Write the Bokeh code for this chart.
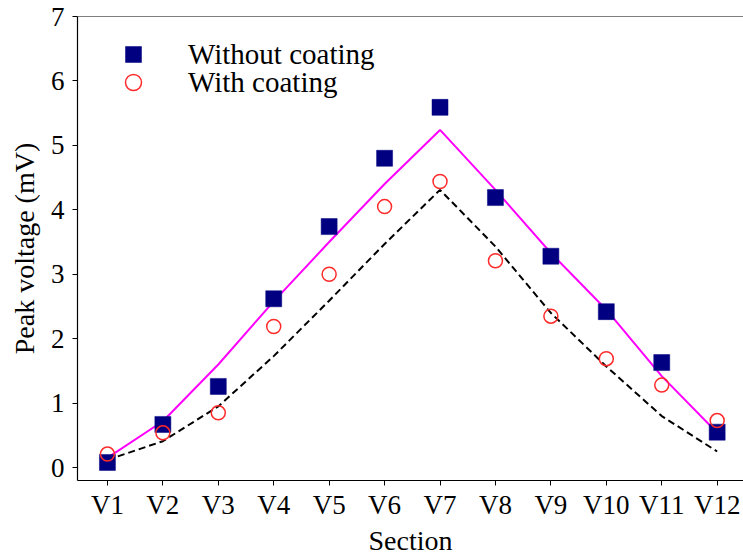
from bokeh.plotting import figure
from bokeh.models import FixedTicker, Legend, LegendItem, Span
from bokeh.embed import file_html
from bokeh.resources import INLINE

sections = ["V1", "V2", "V3", "V4", "V5", "V6", "V7", "V8", "V9", "V10", "V11", "V12"]
without_coating = [0.08, 0.67, 1.26, 2.62, 3.74, 4.80, 5.59, 4.19, 3.28, 2.42, 1.63, 0.55]
with_coating = [0.21, 0.54, 0.85, 2.19, 3.00, 4.05, 4.44, 3.21, 2.35, 1.69, 1.28, 0.73]
fit_without = [0.15, 0.72, 1.60, 2.58, 3.50, 4.40, 5.24, 4.31, 3.33, 2.45, 1.42, 0.54]
fit_with = [0.12, 0.41, 0.95, 1.73, 2.59, 3.47, 4.31, 3.43, 2.40, 1.57, 0.80, 0.25]
y_ticks = [0, 1, 2, 3, 4, 5, 6, 7]

xs = list(range(1, len(sections) + 1))
FONT = "Liberation Serif"

p = figure(width=743, height=558, output_backend="svg", toolbar_location=None,
           x_range=(0.46, 12.475), y_range=(-0.2, 7.0),
           min_border_left=77, min_border_right=0, min_border_top=16, min_border_bottom=77)
p.outline_line_color = None
p.grid.visible = False
p.background_fill_color = "white"
p.border_fill_color = "white"

l1 = p.line(xs, fit_without, line_color="#ff00ff", line_width=2)
l2 = p.line(xs, fit_with, line_color="black", line_width=2, line_dash="7 4")
s1 = p.scatter(xs, without_coating, marker="square", size=16, fill_color="#000080",
               line_color="#000080", line_width=0.5)
s2 = p.scatter(xs, with_coating, marker="circle", size=14, fill_color=None,
               line_color="#ff2a2a", line_width=1.5)

p.add_layout(Span(location=7.0, dimension="width", line_color="black", line_width=1.2))

p.xaxis.ticker = FixedTicker(ticks=xs)
p.xaxis.major_label_overrides = {x: s for x, s in zip(xs, sections)}
p.yaxis.ticker = FixedTicker(ticks=y_ticks)
p.xaxis.minor_tick_line_color = None
p.yaxis.minor_tick_line_color = None

for ax in (p.xaxis, p.yaxis):
    ax.axis_line_color = "black"
    ax.axis_line_width = 1.2
    ax.major_tick_line_color = "black"
    ax.major_tick_out = 5
    ax.major_tick_in = 0
    ax.major_label_text_font = FONT
    ax.major_label_text_font_size = "27px"
    ax.major_label_text_color = "black"
    ax.axis_label_text_font = FONT
    ax.axis_label_text_font_size = "28px"
    ax.axis_label_text_font_style = "normal"
    ax.axis_label_text_color = "black"

p.xaxis.axis_label = "Section"
p.yaxis.axis_label = "Peak voltage (mV)"
p.xaxis.major_label_standoff = 4
p.yaxis.major_label_standoff = 8
p.xaxis.axis_label_standoff = 2
p.yaxis.axis_label_standoff = 8

common = dict(orientation="vertical", glyph_width=40, glyph_height=40, padding=0, margin=0,
              label_standoff=35, label_text_font=FONT, label_text_font_size="29px",
              label_text_color="black", border_line_color=None, background_fill_alpha=0)
leg1 = Legend(items=[LegendItem(label="Without coating", renderers=[s1])],
              location=(36, 406), **common)
leg2 = Legend(items=[LegendItem(label="With coating", renderers=[s2])],
              location=(36, 378), **common)
p.add_layout(leg1, "center")
p.add_layout(leg2, "center")

open("out.html", "w").write(file_html(p, INLINE))
